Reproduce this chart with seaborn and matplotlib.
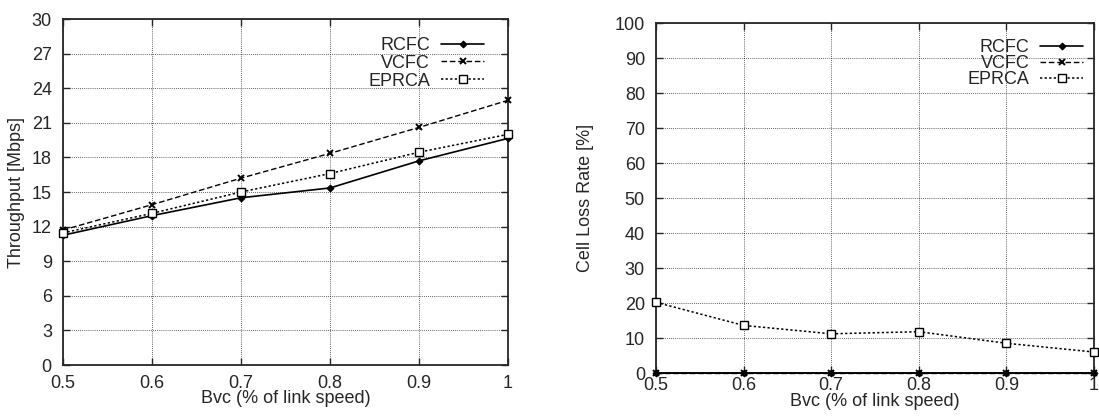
import matplotlib
matplotlib.use("Agg")
import matplotlib.pyplot as plt
import seaborn as sns
import pandas as pd

bvc = [0.5, 0.6, 0.7, 0.8, 0.9, 1.0]
series_names = ["RCFC", "VCFC", "EPRCA"]
throughput_rcfc = [11.25, 12.95, 14.5, 15.35, 17.7, 19.65]
throughput_vcfc = [11.7, 13.9, 16.2, 18.35, 20.6, 22.95]
throughput_eprca = [11.45, 13.15, 15.0, 16.6, 18.45, 20.0]
loss_rcfc = [0.0, 0.0, 0.0, 0.0, 0.0, 0.0]
loss_vcfc = [0.0, 0.0, 0.0, 0.0, 0.0, 0.0]
loss_eprca = [20.2, 13.6, 11.2, 11.8, 8.5, 6.0]
xticks = [0.5, 0.6, 0.7, 0.8, 0.9, 1.0]
xticklabels = ["0.5", "0.6", "0.7", "0.8", "0.9", "1"]
y1ticks = list(range(0, 31, 3))
y2ticks = list(range(0, 101, 10))

sns.set_style("ticks")
plt.rcParams["font.family"] = ["Liberation Sans", "DejaVu Sans"]

FS = 13
styles = {
    "RCFC": dict(linestyle="-", marker="D", markersize=3.5, markerfacecolor="black", linewidth=1.2),
    "VCFC": dict(linestyle=(0, (4, 2)), marker="x", markersize=5, markeredgewidth=1.4, linewidth=1.0),
    "EPRCA": dict(linestyle=(0, (1.5, 1.5)), marker="s", markersize=5.5, markerfacecolor="white",
                  markeredgewidth=1.0, linewidth=1.1),
}

fig = plt.figure(figsize=(10.99, 4.17), dpi=100)
ax1 = fig.add_axes([0.0573, 0.1247, 0.4049, 0.8297])
ax2 = fig.add_axes([0.5969, 0.1055, 0.3985, 0.8393])

def draw(ax, data, yticks, ylim, ylabel, xpad, leg_anchor, spacing):
    for name, vals in zip(series_names, data):
        df = pd.DataFrame({"x": bvc, "y": vals})
        st = dict(styles[name])
        sns.lineplot(data=df, x="x", y="y", ax=ax, color="black", label=name,
                     markeredgecolor="black", clip_on=False, zorder=3, **st)
    ax.set_xlim(0.5, 1.0)
    ax.set_ylim(*ylim)
    ax.set_xticks(xticks)
    ax.set_xticklabels(xticklabels)
    ax.set_yticks(yticks)
    ax.grid(True, color="black", linestyle=(0, (1, 1.5)), linewidth=0.6, alpha=0.8)
    ax.tick_params(direction="in", length=5, labelsize=FS, top=True, right=True, width=1)
    ax.tick_params(axis="x", pad=xpad)
    ax.tick_params(axis="y", pad=8)
    for sp in ax.spines.values():
        sp.set_linewidth(1.3)
    ax.set_xlabel("Bvc (% of link speed)", fontsize=FS, labelpad=-1)
    ax.set_ylabel(ylabel, fontsize=FS)
    ax.legend(loc="upper right", bbox_to_anchor=leg_anchor, frameon=False, markerfirst=False,
              fontsize=FS, handlelength=2.4, labelspacing=spacing, borderaxespad=0.3,
              handletextpad=0.6)

draw(ax1, [throughput_rcfc, throughput_vcfc, throughput_eprca], y1ticks, (0, 30),
     "Throughput [Mbps]", 7, (0.975, 0.985), 0.05)
draw(ax2, [loss_rcfc, loss_vcfc, loss_eprca], y2ticks, (0, 100),
     "Cell Loss Rate [%]", 3, (1.005, 0.99), -0.05)
ax1.yaxis.labelpad = 5
ax2.yaxis.labelpad = 15

fig.savefig("out.png", dpi=100)
